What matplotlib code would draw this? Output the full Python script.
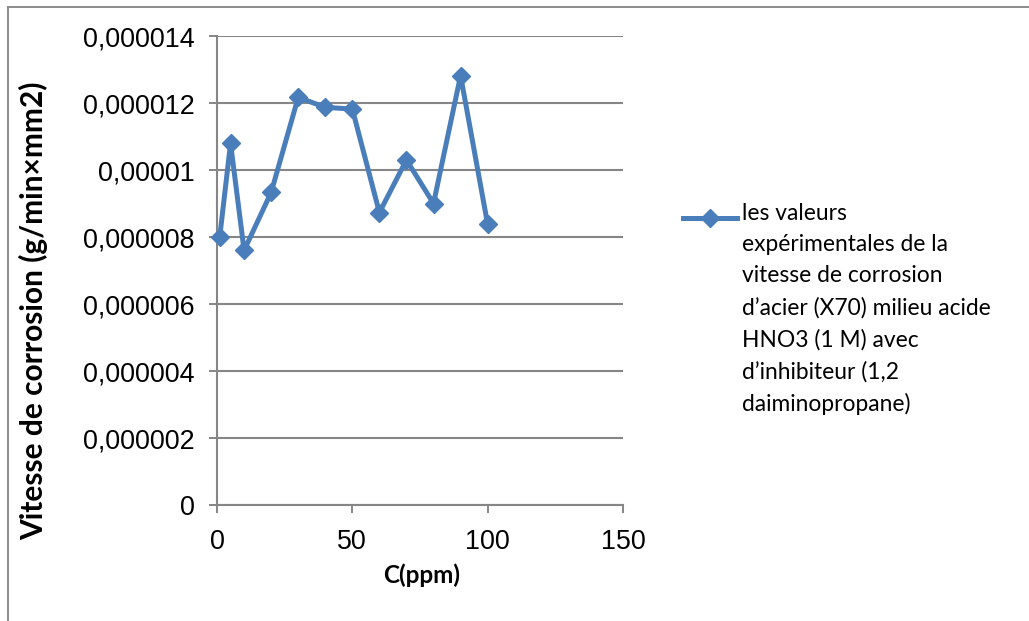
import matplotlib
matplotlib.use("Agg")
import matplotlib.pyplot as plt
from matplotlib.lines import Line2D

# Concentration of inhibitor (ppm) and measured corrosion rate (g/min×mm2)
conc_ppm = [1, 5, 10, 20, 30, 40, 50, 60, 70, 80, 90, 100]
rate = [8.0e-6, 10.8e-6, 7.6e-6, 9.33e-6, 12.17e-6, 11.87e-6,
        11.82e-6, 8.73e-6, 10.3e-6, 9.0e-6, 12.82e-6, 8.38e-6]

y_ticks = [0, 2e-6, 4e-6, 6e-6, 8e-6, 10e-6, 12e-6, 14e-6]
y_tick_labels = ["0", "0,000002", "0,000004", "0,000006", "0,000008",
                 "0,00001", "0,000012", "0,000014"]
x_ticks = [0, 50, 100, 150]
x_tick_labels = ["0", "50", "100", "150"]

series_label = ("les valeurs\nexpérimentales de la\nvitesse de corrosion\n"
                "d’acier (X70) milieu acide\nHNO3 (1 M) avec\n"
                "d’inhibiteur (1,2\ndaiminopropane)")

blue = "#4A7EBB"
grid_gray = "#868686"

fig = plt.figure(figsize=(10.29, 6.21), dpi=100)
ax = fig.add_axes([0.2109, 0.1868, 0.6054 - 0.2109, 0.942 - 0.1868])

ax.plot(conc_ppm, rate, color=blue, lw=3.6, marker="D", markersize=9.5,
        markerfacecolor=blue, markeredgecolor=blue, zorder=3, clip_on=False)

ax.set_xlim(0, 150)
ax.set_ylim(0, 14e-6)
ax.set_xticks(x_ticks)
ax.set_xticklabels(x_tick_labels, fontsize=19.4, family="Liberation Sans")
ax.set_yticks(y_ticks)
ax.set_yticklabels(y_tick_labels, fontsize=19.4, family="Liberation Sans")
ax.tick_params(axis="both", direction="out", length=6, width=1.4,
               color=grid_gray, pad=10)
ax.tick_params(axis="x", pad=11)

ax.grid(axis="y", color=grid_gray, lw=1.5)
ax.set_axisbelow(True)
for side in ("top", "right"):
    ax.spines[side].set_visible(False)
for side in ("left", "bottom"):
    ax.spines[side].set_color(grid_gray)
    ax.spines[side].set_linewidth(1.5)

ax.set_xlabel("C(ppm)", fontsize=17.5, fontweight="bold", family="Lato")
ax.xaxis.set_label_coords(0.503, -0.125)
ax.set_ylabel("Vitesse de corrosion (g/min×mm2)", fontsize=21.5,
              fontweight="bold", family="Lato")
ax.yaxis.set_label_coords(-0.415, 0.414)

# Legend: handle aligned with the first line of the wrapped label
fig.add_artist(Line2D([683 / 1029, 737 / 1029], [1 - 218 / 621, 1 - 218 / 621],
                      color=blue, lw=3.6, transform=fig.transFigure))
fig.add_artist(Line2D([710 / 1029], [1 - 218 / 621], color=blue, marker="D",
                      markersize=9.5, transform=fig.transFigure))
fig.text(742 / 1029, 1 - 203 / 621, series_label, fontsize=16.4, family="Lato",
         va="top", ha="left", linespacing=1.6)

# Chart frame edges
fig.add_artist(Line2D([7.5 / 1029, 7.5 / 1029], [0, 1 - 7 / 621], color="#8c8c8c",
                      lw=1.4, transform=fig.transFigure))
fig.add_artist(Line2D([7.5 / 1029, 1], [1 - 7 / 621, 1 - 7 / 621], color="#8c8c8c",
                      lw=1.4, transform=fig.transFigure))

fig.savefig("out.png", dpi=100, facecolor="white")
